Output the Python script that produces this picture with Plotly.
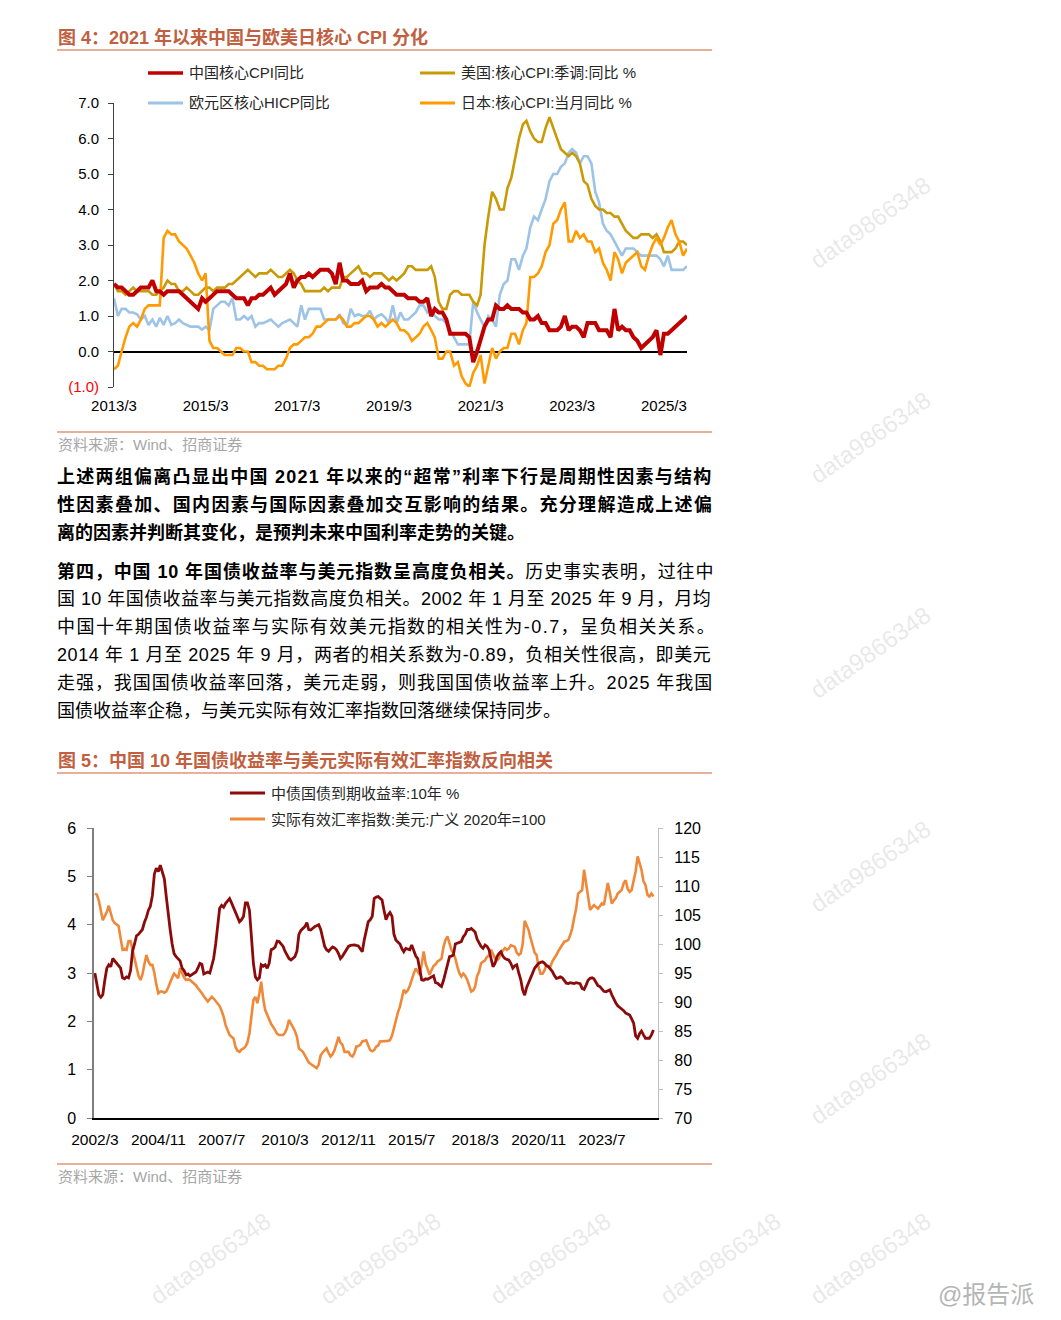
import pandas as pd
import plotly.graph_objects as go

# the page places the figure 8px in from the top-left corner of the window
PAGE_W, PAGE_H, OFF = 1061, 1320, 8
W, H = PAGE_W - 2 * OFF, PAGE_H - 2 * OFF
FONT = "Liberation Sans, Arial, Noto Sans CJK SC, sans-serif"

# ---------------- Figure 4 data (monthly, from 2013/3) ----------------
cpi_start = "2013-03-01"
china_core = [
    1.9, 1.8, 1.8, 1.7, 1.6, 1.6, 1.7, 1.8, 1.8, 1.8,
    2.0, 1.7, 1.7, 1.6, 1.7, 1.7, 1.7, 1.7, 1.6, 1.5, 1.4, 1.3,
    1.2, 1.5, 1.4, 1.5, 1.6, 1.7, 1.7, 1.7, 1.7, 1.6, 1.5, 1.5,
    1.5, 1.3, 1.5, 1.5, 1.6, 1.6, 1.7, 1.8, 1.6, 1.7, 1.8, 1.9,
    2.2, 1.8, 2.0, 2.1, 2.1, 2.2, 2.1, 2.2, 2.3, 2.3, 2.3, 2.2,
    1.9, 2.5, 2.0, 2.0, 1.9, 1.9, 1.9, 2.0, 1.7, 1.8, 1.8, 1.8,
    1.9, 1.8, 1.8, 1.7, 1.6, 1.6, 1.6, 1.5, 1.5, 1.5, 1.4, 1.4,
    1.5, 1.0, 1.2, 1.1, 1.1, 0.9, 0.5, 0.5, 0.5, 0.5, 0.5, 0.4,
    -0.3, 0.0, 0.3, 0.7, 0.9, 0.9, 1.3, 1.2, 1.2, 1.3, 1.2, 1.2,
    1.2, 1.1, 1.1, 0.9, 0.9, 1.0, 0.8, 0.8, 0.6, 0.6, 0.6, 0.7,
    1.0, 0.6, 0.7, 0.7, 0.6, 0.4, 0.8, 0.8, 0.8, 0.6, 0.6, 0.6,
    0.4, 1.2, 0.6, 0.7, 0.6, 0.6, 0.4, 0.3, 0.1, 0.2, 0.3, 0.4,
    0.6, -0.1, 0.5, 0.5, 0.6, 0.7, 0.8, 0.9, 1.0,
]
us_core = [
    1.9, 1.7, 1.7, 1.6, 1.7, 1.8, 1.7, 1.7, 1.7, 1.7,
    1.6, 1.6, 1.7, 1.8, 2.0, 1.9, 1.9, 1.7, 1.7, 1.8, 1.7, 1.6,
    1.6, 1.7, 1.8, 1.8, 1.7, 1.8, 1.8, 1.8, 1.9, 1.9, 2.0, 2.1,
    2.2, 2.3, 2.2, 2.1, 2.2, 2.2, 2.2, 2.3, 2.2, 2.1, 2.1, 2.2,
    2.3, 2.2, 2.0, 1.9, 1.7, 1.7, 1.7, 1.7, 1.7, 1.8, 1.7, 1.8,
    1.8, 1.8, 2.1, 2.1, 2.2, 2.3, 2.4, 2.2, 2.2, 2.1, 2.2, 2.2,
    2.2, 2.1, 2.0, 2.1, 2.0, 2.1, 2.2, 2.4, 2.4, 2.3, 2.3, 2.3,
    2.3, 2.4, 2.1, 1.4, 1.2, 1.2, 1.6, 1.7, 1.7, 1.6, 1.6, 1.6,
    1.4, 1.3, 1.6, 3.0, 3.8, 4.5, 4.3, 4.0, 4.0, 4.6, 4.9, 5.5,
    6.0, 6.4, 6.5, 6.2, 6.0, 5.9, 5.9, 6.3, 6.6, 6.3, 6.0, 5.7,
    5.6, 5.5, 5.6, 5.5, 5.3, 4.8, 4.7, 4.3, 4.1, 4.0, 4.0, 3.9,
    3.9, 3.8, 3.8, 3.6, 3.4, 3.3, 3.2, 3.2, 3.3, 3.3, 3.3, 3.2,
    3.3, 3.1, 2.8, 2.8, 2.8, 2.9, 3.1, 3.1, 3.0,
]
euro_core = [
    1.5, 1.0, 1.2, 1.2, 1.1, 1.1, 1.05, 0.9, 1.0, 0.75,
    0.9, 0.7, 0.95, 0.75, 1.0, 0.75, 0.8, 0.9, 0.8, 0.75, 0.7, 0.7,
    0.7, 0.62, 0.7, 0.6, 1.2, 1.3, 1.4, 1.4, 1.3, 1.5, 0.9, 0.9,
    1.0, 0.9, 1.0, 0.7, 0.8, 0.8, 0.85, 0.9, 0.8, 0.7, 0.8, 0.85,
    0.9, 0.8, 0.7, 1.3, 0.9, 1.2, 1.2, 1.2, 1.2, 0.9, 0.9, 0.9,
    0.9, 1.05, 0.8, 0.75, 1.2, 1.0, 1.05, 1.0, 1.0, 1.15, 0.9, 1.0,
    1.05, 0.95, 0.8, 1.3, 0.8, 1.1, 0.9, 0.9, 1.0, 1.1, 1.3, 1.3,
    1.1, 1.2, 1.0, 0.9, 0.9, 0.8, 0.6, 0.4, 0.2, 0.2, 0.2, 0.2,
    1.4, 1.1, 0.9, 0.7, 1.0, 0.9, 0.7, 1.6, 1.9, 2.0, 2.6, 2.6,
    2.3, 2.7, 2.9, 3.5, 3.8, 3.7, 4.0, 4.3, 4.8, 5.0, 5.0, 5.2,
    5.3, 5.6, 5.7, 5.6, 5.3, 5.5, 5.5, 5.3, 4.5, 4.2, 3.6, 3.4,
    3.3, 3.1, 2.9, 2.7, 2.9, 2.9, 2.9, 2.8, 2.7, 2.7, 2.7, 2.7,
    2.7, 2.6, 2.4, 2.7, 2.3, 2.3, 2.3, 2.3, 2.4,
]
japan_core = [
    -0.5, -0.4, 0.0, 0.4, 0.7, 0.8, 0.7, 0.9, 1.2, 1.3,
    1.3, 1.3, 1.3, 3.2, 3.4, 3.3, 3.3, 3.1, 3.0, 2.9, 2.7, 2.5,
    2.2, 2.0, 2.2, 0.3, 0.1, 0.1, 0.0, -0.1, -0.1, -0.1, 0.1, 0.1,
    0.0, 0.0, -0.3, -0.3, -0.4, -0.4, -0.5, -0.5, -0.5, -0.4, -0.4, -0.2,
    0.1, 0.2, 0.2, 0.3, 0.4, 0.4, 0.5, 0.7, 0.7, 0.8, 0.9, 0.9,
    0.9, 1.0, 0.9, 0.7, 0.7, 0.8, 0.8, 0.9, 1.0, 1.0, 0.9, 0.7,
    0.8, 0.7, 0.8, 0.9, 0.8, 0.6, 0.6, 0.5, 0.3, 0.4, 0.5, 0.7,
    0.8, 0.6, 0.4, -0.2, -0.2, 0.0, 0.0, -0.4, -0.3, -0.7, -0.9, -1.0,
    -0.6, -0.4, -0.1, -0.9, -0.4, 0.1, -0.2, 0.0, 0.1, 0.1, 0.5, 0.5,
    0.2, 0.6, 0.8, 2.1, 2.1, 2.2, 2.4, 2.8, 3.0, 3.6, 3.7, 4.0,
    4.2, 3.1, 3.1, 3.4, 3.2, 3.3, 3.1, 3.1, 2.8, 2.9, 2.5, 2.3,
    2.0, 2.8, 2.6, 2.2, 2.5, 2.6, 2.7, 2.8, 2.4, 2.3, 2.7, 3.0,
    3.2, 3.0, 3.2, 3.5, 3.7, 3.3, 3.1, 2.7, 2.9,
]
cpi_tickvals = ["2013-03-01", "2015-03-01", "2017-03-01", "2019-03-01",
                "2021-03-01", "2023-03-01", "2025-03-01"]
cpi_ticktext = ["2013/3", "2015/3", "2017/3", "2019/3", "2021/3", "2023/3", "2025/3"]
cpi_yvals = [-1, 0, 1, 2, 3, 4, 5, 6, 7]
cpi_ytext = ['<span style="color:#FF0000">(1.0)</span>', "0.0", "1.0", "2.0",
             "3.0", "4.0", "5.0", "6.0", "7.0"]

# ---------------- Figure 5 data (monthly, from 2002/3) ----------------
bond_start = "2002-03-01"
cn10y = [
    3.0, 2.75, 2.55, 2.5, 2.55, 2.85, 3.1, 3.17, 3.13, 3.3,
    3.25, 3.2, 3.15, 3.1, 2.9, 2.88, 2.92, 2.9, 3.05, 3.45, 3.6, 3.77,
    3.8, 3.85, 3.9, 4.05, 4.15, 4.3, 4.38, 4.6, 5.05, 5.17, 5.1, 5.23,
    5.1, 4.95, 4.6, 4.17, 3.9, 3.6, 3.4, 3.34, 3.3, 3.25, 3.1, 3.05,
    2.96, 2.98, 2.94, 2.97, 3.0, 3.02, 3.1, 3.2, 3.18, 2.98, 3.0, 3.02,
    3.0, 3.15, 3.3, 3.6, 4.0, 4.34, 4.4, 4.36, 4.44, 4.48, 4.54, 4.45,
    4.35, 4.25, 4.15, 4.06, 4.1, 4.17, 4.45, 4.45, 4.3, 3.75, 3.2, 2.92,
    2.86, 2.9, 3.17, 3.14, 3.17, 3.1, 3.2, 3.48, 3.5, 3.54, 3.66, 3.65,
    3.6, 3.55, 3.45, 3.38, 3.3, 3.27, 3.3, 3.34, 3.45, 3.8, 3.88, 3.92,
    3.96, 4.04, 3.9, 3.89, 3.93, 3.96, 3.98, 4.0, 3.9, 3.72, 3.55, 3.48,
    3.45, 3.5, 3.54, 3.52, 3.48, 3.4, 3.3, 3.35, 3.42, 3.51, 3.55, 3.57,
    3.58, 3.58, 3.57, 3.56, 3.5, 3.44, 3.68, 3.85, 4.06, 4.1, 4.17, 4.54,
    4.57, 4.58, 4.55, 4.51, 4.3, 4.1, 4.2, 4.25, 4.17, 3.8, 3.68, 3.65,
    3.6, 3.5, 3.44, 3.51, 3.5, 3.48, 3.58, 3.45, 3.35, 3.3, 3.06, 2.86,
    2.85, 2.88, 2.87, 2.9, 2.92, 2.94, 2.8, 2.79, 2.75, 2.72, 2.85, 3.03,
    3.2, 3.34, 3.35, 3.37, 3.6, 3.62, 3.64, 3.65, 3.75, 3.8, 3.9, 3.9,
    3.92, 3.88, 3.85, 3.7, 3.62, 3.55, 3.51, 3.58, 3.55, 3.48, 3.3, 3.13,
    3.2, 3.34, 3.4, 3.44, 3.35, 3.3, 3.28, 3.27, 3.2, 3.1, 3.15, 3.17,
    3.0, 2.86, 2.65, 2.54, 2.7, 2.8, 2.9, 2.99, 3.1, 3.15, 3.2, 3.22,
    3.23, 3.2, 3.15, 3.13, 3.08, 3.03, 2.95, 2.89, 2.9, 2.92, 2.9, 2.85,
    2.79, 2.78, 2.8, 2.79, 2.78, 2.8, 2.79, 2.78, 2.68, 2.66, 2.75, 2.85,
    2.89, 2.9, 2.88, 2.8, 2.74, 2.72, 2.66, 2.62, 2.61, 2.63, 2.65, 2.55,
    2.45, 2.38, 2.32, 2.29, 2.26, 2.22, 2.17, 2.15, 2.13, 2.05, 1.96, 1.7,
    1.65, 1.75, 1.8, 1.72, 1.65, 1.65, 1.65, 1.72, 1.82,
]
usd_reer = [
    108.7, 108.5, 107.5, 105.5, 104.1, 104.8, 105.5, 106.6, 105.5, 104.1,
    103.6, 103.3, 103.1, 101.0, 99.0, 99.2, 99.0, 100.5, 100.5, 99.0, 97.5, 96.0,
    94.5, 93.8, 94.7, 96.5, 98.1, 97.0, 96.4, 96.4, 95.0, 93.0, 91.5, 91.8,
    91.8, 91.6, 91.8, 92.5, 93.5, 94.2, 94.9, 94.5, 94.1, 95.8, 95.0, 94.2,
    93.8, 93.9, 93.8, 93.5, 93.2, 92.9, 92.4, 92.0, 91.5, 91.0, 90.5, 90.1,
    90.5, 90.9, 90.6, 90.2, 89.8, 89.3, 88.5, 87.5, 86.0, 85.3, 84.3, 84.0,
    83.7, 82.2, 81.6, 81.4, 81.8, 82.0, 82.3, 83.0, 84.6, 87.5, 90.3, 90.9,
    89.8, 91.5, 93.5, 90.5, 88.6, 87.8, 87.0, 86.2, 85.7, 85.2, 84.5, 84.3,
    84.3, 84.3, 84.7, 85.5, 86.9, 86.3, 85.7, 85.0, 84.0, 82.0, 81.7, 81.4,
    80.8, 80.0, 79.6, 79.3, 79.1, 78.8, 78.6, 79.2, 80.8, 81.3, 81.6, 82.0,
    81.2, 80.6, 81.0, 81.7, 82.8, 84.0, 83.0, 82.6, 81.4, 81.4, 81.4, 80.8,
    80.6, 81.2, 82.3, 82.4, 82.6, 83.2, 83.3, 83.4, 82.5, 81.7, 81.5, 81.7,
    82.3, 82.5, 83.2, 83.2, 83.2, 83.2, 83.3, 83.4, 84.2, 85.5, 87.0, 88.2,
    89.2, 90.8, 92.1, 91.6, 92.0, 92.8, 94.0, 94.9, 95.8, 95.3, 94.7, 96.5,
    98.7, 96.6, 95.5, 94.7, 95.5, 96.2, 96.5, 97.0, 97.2, 97.5, 99.5, 100.7,
    101.3, 100.0, 99.0, 98.4, 97.5, 96.1, 95.0, 94.4, 94.9, 94.5, 93.8, 92.8,
    91.8, 92.0, 92.6, 94.5, 95.2, 96.7, 97.0, 97.2, 97.8, 98.0, 99.0, 98.2,
    97.5, 97.2, 97.5, 98.4, 98.8, 99.3, 99.0, 99.2, 99.8, 99.6, 99.5, 98.5,
    98.1, 98.4, 100.0, 104.0, 103.2, 102.4, 101.0, 99.5, 98.5, 98.1, 96.0, 94.9,
    94.9, 95.5, 96.4, 96.2, 96.1, 97.0, 97.5, 98.1, 98.8, 99.3, 99.8, 100.4,
    100.5, 100.7, 101.5, 102.7, 104.5, 106.1, 108.7, 109.0, 109.3, 112.8, 110.5, 108.2,
    105.9, 106.3, 106.7, 106.4, 106.1, 106.5, 107.0, 106.7, 108.5, 110.5, 108.8, 107.0,
    107.5, 107.9, 108.7, 109.0, 109.3, 110.5, 111.0, 109.5, 109.0, 109.3, 111.0, 112.5,
    115.1, 114.0, 112.8, 110.8, 110.2, 108.5, 108.2, 108.7, 108.2,
]
bond_tickvals = ["2002-03-01", "2004-11-01", "2007-07-01", "2010-03-01", "2012-11-01",
                 "2015-07-01", "2018-03-01", "2020-11-01", "2023-07-01"]
bond_ticktext = ["2002/3", "2004/11", "2007/7", "2010/3", "2012/11",
                 "2015/7", "2018/3", "2020/11", "2023/7"]

# ---------------- texts ----------------
title4 = "<b>图 4：2021 年以来中国与欧美日核心 CPI 分化</b>"
title5 = "<b>图 5：中国 10 年国债收益率与美元实际有效汇率指数反向相关</b>"
source_txt = "资料来源：Wind、招商证券"
legend4 = ["中国核心CPI同比", "美国:核心CPI:季调:同比 %", "欧元区核心HICP同比", "日本:核心CPI:当月同比 %"]
legend5 = ["中债国债到期收益率:10年 %", "实际有效汇率指数:美元:广义 2020年=100"]
para_lines = [
    "<b>上述两组偏离凸显出中国 2021 年以来的“超常”利率下行是周期性因素与结构</b>",
    "<b>性因素叠加、国内因素与国际因素叠加交互影响的结果。充分理解造成上述偏</b>",
    "<b>离的因素并判断其变化，是预判未来中国利率走势的关键。</b>",
    "<b>第四，中国 10 年国债收益率与美元指数呈高度负相关。</b>历史事实表明，过往中",
    "国 10 年国债收益率与美元指数高度负相关。2002 年 1 月至 2025 年 9 月，月均",
    "中国十年期国债收益率与实际有效美元指数的相关性为-0.7，呈负相关关系。",
    "2014 年 1 月至 2025 年 9 月，两者的相关系数为-0.89，负相关性很高，即美元",
    "走强，我国国债收益率回落，美元走弱，则我国国债收益率上升。2025 年我国",
    "国债收益率企稳，与美元实际有效汇率指数回落继续保持同步。",
]
para_y = [477, 504, 532, 571, 599, 627, 655, 683, 711]
para_spacing = [1.25, 1.3, 0, 0.9, 0.45, 1.45, 0.6, 0.95, 0]

# ---------------- colours ----------------
C_CN, C_US, C_EU, C_JP = "#C00000", "#C99A06", "#9DC3E6", "#FF9A00"
C_YLD, C_REER = "#8B0A0A", "#F0883A"
C_TITLE, C_RULE, C_SRC = "#C0603F", "#E39579", "#A6A6A6"


def X(p):
    return (p - OFF) / W


def Y(p):
    return 1 - (p - OFF) / H


cpi_dates = pd.date_range(cpi_start, periods=len(china_core), freq="MS")
bond_dates = pd.date_range(bond_start, periods=len(cn10y), freq="MS")
reer_dates = pd.date_range(bond_start, periods=len(usd_reer), freq="MS")

fig = go.Figure()
fig.add_trace(go.Scatter(x=cpi_dates, y=euro_core, mode="lines", name=legend4[2],
                         line=dict(color=C_EU, width=2.6), xaxis="x", yaxis="y"))
fig.add_trace(go.Scatter(x=cpi_dates, y=us_core, mode="lines", name=legend4[1],
                         line=dict(color=C_US, width=2.6), xaxis="x", yaxis="y"))
fig.add_trace(go.Scatter(x=cpi_dates, y=japan_core, mode="lines", name=legend4[3],
                         line=dict(color=C_JP, width=2.6), xaxis="x", yaxis="y"))
fig.add_trace(go.Scatter(x=cpi_dates, y=china_core, mode="lines", name=legend4[0],
                         line=dict(color=C_CN, width=4), xaxis="x", yaxis="y"))
fig.add_trace(go.Scatter(x=reer_dates, y=usd_reer, mode="lines", name=legend5[1],
                         line=dict(color=C_REER, width=2.6), xaxis="x2", yaxis="y2"))
fig.add_trace(go.Scatter(x=bond_dates, y=cn10y, mode="lines", name=legend5[0],
                         line=dict(color=C_YLD, width=2.8), xaxis="x2", yaxis="y3"))

tick_font = dict(family=FONT, size=15, color="#000000")

fig.update_layout(
    template="none",
    width=W, height=H, autosize=False,
    margin=dict(l=0, r=0, t=0, b=0, pad=0, autoexpand=False),
    paper_bgcolor="white", plot_bgcolor="rgba(0,0,0,0)",
    showlegend=False,
    font=dict(family=FONT, color="#000000"),
    xaxis=dict(domain=[X(114), X(687)], range=[cpi_dates[0], cpi_dates[-1]], anchor="y",
               automargin=False, showline=False, showgrid=False, zeroline=False, ticks="",
               tickvals=cpi_tickvals, ticktext=cpi_ticktext, tickfont=tick_font,
               ticklabelstandoff=8),
    yaxis=dict(domain=[Y(387), Y(103)], range=[-1, 7], anchor="x", automargin=False,
               showline=True, linecolor="#404040", linewidth=1,
               ticks="outside", ticklen=5, tickcolor="#404040",
               tickvals=cpi_yvals, ticktext=cpi_ytext, tickfont=tick_font,
               showgrid=False, zeroline=True, zerolinecolor="#000000", zerolinewidth=1.5,
               ticklabelstandoff=6),
    xaxis2=dict(domain=[X(94), X(658)], range=["2002-02-16", "2025-11-10"], anchor="y3",
                automargin=False, showline=True, linecolor="#000000", linewidth=1.5,
                showgrid=False, zeroline=False, ticks="", tickvals=bond_tickvals,
                ticktext=bond_ticktext,
                tickfont=dict(family=FONT, size=15.5, color="#000000"), ticklabelstandoff=7),
    yaxis2=dict(domain=[Y(1118), Y(828)], range=[70, 120], anchor="x2", side="right",
                automargin=False, dtick=5, showline=True, linecolor="#BFBFBF", linewidth=1.2,
                ticks="outside", ticklen=4, tickcolor="#BFBFBF", showgrid=False,
                zeroline=False, tickfont=dict(family=FONT, size=16, color="#000000"),
                ticklabelstandoff=8),
    yaxis3=dict(domain=[Y(1118), Y(828)], range=[0, 6], anchor="x2", side="left",
                automargin=False, overlaying="y2", dtick=1, showline=True,
                linecolor="#7F7F7F", linewidth=1.5,
                ticks="outside", ticklen=5, tickcolor="#7F7F7F", showgrid=False,
                zeroline=False, tickfont=dict(family=FONT, size=16, color="#000000"),
                ticklabelstandoff=8),
)

shapes = []
ann = []


def rule(y):
    shapes.append(dict(type="line", xref="paper", yref="paper", x0=X(57), x1=X(712),
                       y0=Y(y), y1=Y(y), line=dict(color=C_RULE, width=1.5)))


def text(x, y, s, size, color="#000000", anchor="left", **kw):
    ann.append(dict(x=X(x), y=Y(y), xref="paper", yref="paper", text=s, showarrow=False,
                    xanchor=anchor, yanchor="middle",
                    font=dict(family=FONT, size=size, color=color), **kw))


def legend_item(x, y, color, width, label):
    shapes.append(dict(type="line", xref="paper", yref="paper", x0=X(x), x1=X(x + 35),
                       y0=Y(y), y1=Y(y), line=dict(color=color, width=width)))
    text(x + 39, y, label, 15, "#262626")


# titles, rules and sources
text(56, 37, title4, 18, C_TITLE)
rule(50)
rule(432)
text(56, 444, source_txt, 15, C_SRC)
text(56, 760, title5, 18, C_TITLE)
rule(773)
rule(1164)
text(56, 1176, source_txt, 15, C_SRC)

# legends
legend_item(148, 73, C_CN, 3.5, legend4[0])
legend_item(420, 73, C_US, 3, legend4[1])
legend_item(148, 103, C_EU, 3, legend4[2])
legend_item(420, 103, C_JP, 3, legend4[3])
legend_item(230, 793, C_YLD, 3, legend5[0])
legend_item(230, 819, C_REER, 3, legend5[1])

# body paragraphs (justified lines get a little letter spacing)
for s, y, sp in zip(para_lines, para_y, para_spacing):
    if sp:
        s = '<span style="letter-spacing:%.2fpx">%s</span>' % (sp, s)
    text(55, y, s, 18, "#000000")

# watermarks
wm_color = "rgba(175,175,175,0.28)"
for (wx, wy) in [(870, 222), (870, 437), (870, 652), (870, 866), (870, 1078),
                 (870, 1258), (210, 1258), (380, 1258), (550, 1258), (720, 1258)]:
    text(wx, wy, "data9866348", 24, wm_color, anchor="center", textangle=-35)
text(1036, 1294, "@报告派", 24, "#B5B5B5", anchor="right")

fig.update_layout(shapes=shapes, annotations=ann)
fig.write_html("out.html")
